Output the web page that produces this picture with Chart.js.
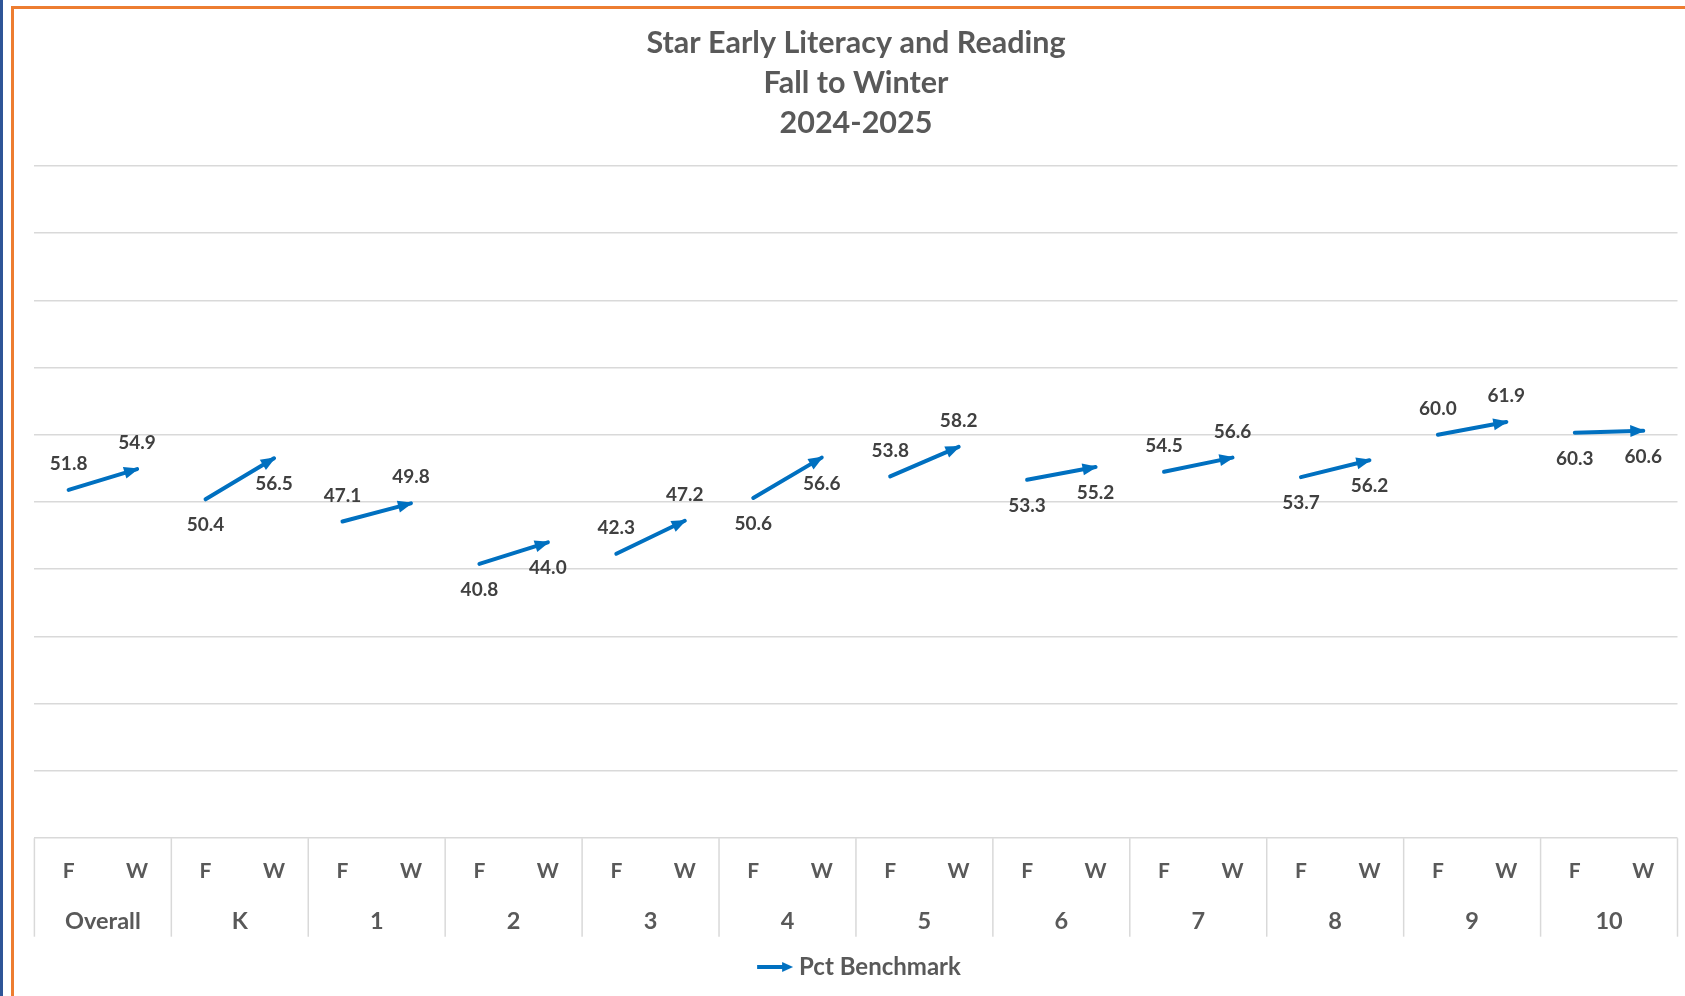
<!DOCTYPE html>
<html>
<head>
<meta charset="utf-8">
<title>Star Early Literacy and Reading</title>
<script src="https://cdn.jsdelivr.net/npm/chart.js@4.4.1/dist/chart.umd.min.js"></script>
<style>
  html, body { margin: 0; padding: 0; background: #fff; overflow: hidden; }
  #wrap { position: relative; width: 1685px; height: 996px; }
  #chart { position: absolute; left: 0; top: 0; }
  /* cadre orange + bande bleue de la diapositive */
  .edge { position: absolute; left: 11px; top: 6px; width: 1700px; height: 1010px;
          border-top: 3px solid #ED7D31; border-left: 3px solid #ED7D31; pointer-events: none; }
  .strip { position: absolute; left: 0; top: 0; width: 3px; height: 996px; background: #2F5597; }
</style>
</head>
<body>
<div id="wrap">
  <canvas id="chart" width="1685" height="996"></canvas>
  <div class="strip"></div>
  <div class="edge"></div>
</div>
<script>
// données
const grades = ['Overall', 'K', '1', '2', '3', '4', '5', '6', '7', '8', '9', '10'];
const terms = ['F', 'W'];
const fallPct = [51.8, 50.4, 47.1, 40.8, 42.3, 50.6, 53.8, 53.3, 54.5, 53.7, 60.0, 60.3];
const winterPct = [54.9, 56.5, 49.8, 44.0, 47.2, 56.6, 58.2, 55.2, 56.6, 56.2, 61.9, 60.6];
const yMin = 0;
const yMax = 100;
const yStep = 10;

const BLUE = '#0070C0';
const GRID = '#D9D9D9';
const FONT = 'Lato, "Open Sans", sans-serif';

// étiquettes au-dessus pour un groupe sur deux, en dessous pour les autres
const labelSide = grades.flatMap((g, i) => (i % 2 === 0 ? ['up', 'up'] : ['down', 'down']));

const xLabels = grades.flatMap(() => terms);
const values = grades.flatMap((g, i) => [fallPct[i], winterPct[i]]);

// petite flèche pour la légende (décalée à droite dans le canevas)
const legendArrow = document.createElement('canvas');
legendArrow.width = 48;
legendArrow.height = 12;
(function () {
  const c = legendArrow.getContext('2d');
  c.strokeStyle = BLUE;
  c.fillStyle = BLUE;
  c.lineWidth = 4;
  c.beginPath();
  c.moveTo(12, 6);
  c.lineTo(39, 6);
  c.stroke();
  c.beginPath();
  c.moveTo(48, 6);
  c.lineTo(37, 1);
  c.lineTo(37, 11);
  c.closePath();
  c.fill();
})();

// pointe de flèche au point W de chaque groupe
const arrowHeads = {
  id: 'arrowHeads',
  afterDatasetsDraw(chart) {
    const pts = chart.getDatasetMeta(0).data;
    const ctx = chart.ctx;
    ctx.save();
    ctx.fillStyle = BLUE;
    for (let g = 0; g < grades.length; g++) {
      const a = pts[2 * g];
      const b = pts[2 * g + 1];
      const ang = Math.atan2(b.y - a.y, b.x - a.x);
      ctx.save();
      ctx.translate(b.x + Math.cos(ang) * 2, b.y + Math.sin(ang) * 2);
      ctx.rotate(ang);
      ctx.beginPath();
      ctx.moveTo(0, 0);
      ctx.lineTo(-15, -6);
      ctx.lineTo(-15, 6);
      ctx.closePath();
      ctx.fill();
      ctx.restore();
    }
    ctx.restore();
  }
};

// étiquettes de valeurs
const valueLabels = {
  id: 'valueLabels',
  afterDatasetsDraw(chart) {
    const pts = chart.getDatasetMeta(0).data;
    const ctx = chart.ctx;
    ctx.save();
    ctx.font = 'bold 19px ' + FONT;
    ctx.fillStyle = '#404040';
    ctx.textAlign = 'center';
    ctx.textBaseline = 'middle';
    pts.forEach((p, i) => {
      const dy = labelSide[i] === 'up' ? -26 : 26;
      ctx.fillText(values[i].toFixed(1), p.x, p.y + dy);
    });
    ctx.restore();
  }
};

// séparateurs verticaux entre les groupes sous l'axe
const groupLines = {
  id: 'groupLines',
  afterDraw(chart) {
    const x = chart.scales.x;
    const ctx = chart.ctx;
    const bottom = chart.chartArea.bottom;
    ctx.save();
    ctx.strokeStyle = GRID;
    ctx.lineWidth = 1.5;
    for (let i = 0; i <= grades.length; i++) {
      const px = x.left + (x.width * i) / grades.length;
      ctx.beginPath();
      ctx.moveTo(px, bottom);
      ctx.lineTo(px, bottom + 98.5);
      ctx.stroke();
    }
    ctx.restore();
  }
};

Chart.defaults.font.family = FONT;

new Chart(document.getElementById('chart'), {
  type: 'line',
  data: {
    labels: xLabels,
    datasets: [
      {
        label: 'Pct Benchmark',
        data: values,
        borderColor: BLUE,
        borderWidth: 4,
        borderCapStyle: 'round',
        pointRadius: 0,
        pointHoverRadius: 0,
        tension: 0,
        segment: {
          borderColor: (ctx) => (ctx.p0DataIndex % 2 === 1 ? 'rgba(0,0,0,0)' : BLUE)
        }
      }
    ]
  },
  options: {
    responsive: false,
    animation: false,
    devicePixelRatio: 1,
    events: [],
    layout: { padding: { left: 34.4, right: 7.5, top: 0, bottom: 7 } },
    plugins: {
      title: {
        display: true,
        fullSize: false,
        text: ['Star Early Literacy and Reading', 'Fall to Winter', '2024-2025'],
        color: '#595959',
        font: { size: 30.5, weight: 'bold', lineHeight: 1.32 },
        padding: { top: 23, bottom: 22 }
      },
      legend: {
        position: 'bottom',
        fullSize: false,
        labels: {
          color: '#595959',
          font: { size: 24, weight: 'bold' },
          usePointStyle: true,
          pointStyleWidth: 36,
          padding: 10,
          generateLabels: (chart) =>
            Chart.defaults.plugins.legend.labels
              .generateLabels(chart)
              .map((l) => ({ ...l, pointStyle: legendArrow }))
        }
      },
      tooltip: { enabled: false }
    },
    scales: {
      y: {
        min: yMin,
        max: yMax,
        ticks: { display: false, stepSize: yStep },
        grid: { color: GRID, lineWidth: 1.5, drawTicks: false },
        border: { display: false },
        afterFit: (s) => { s.width = 0; }
      },
      x: {
        position: 'bottom',
        weight: 0,
        offset: true,
        grid: { display: false },
        border: { display: false },
        ticks: {
          color: '#595959',
          font: { size: 21, weight: 'bold' },
          padding: 12.5,
          maxRotation: 0,
          autoSkip: false
        },
        afterFit: (s) => { s.height = 58; }
      },
      x2: {
        type: 'category',
        position: 'bottom',
        weight: 1,
        labels: grades,
        offset: true,
        grid: { display: false },
        border: { display: false },
        ticks: {
          color: '#595959',
          font: { size: 23.5, weight: 'bold' },
          padding: 3,
          maxRotation: 0,
          autoSkip: false
        },
        afterFit: (s) => { s.height = 48.8; }
      }
    }
  },
  plugins: [groupLines, arrowHeads, valueLabels]
});
</script>
</body>
</html>
